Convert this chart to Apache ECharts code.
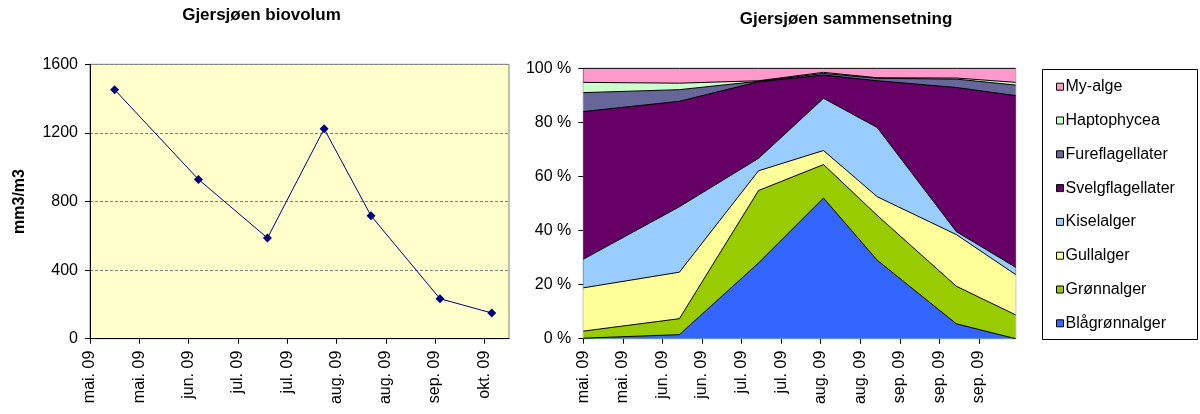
<!DOCTYPE html>
<html>
<head>
<meta charset="utf-8">
<script src="https://cdn.jsdelivr.net/npm/echarts@6/dist/echarts.min.js"></script>
<style>
html,body{margin:0;padding:0;background:#fff;}
#chart{width:1200px;height:414px;}
</style>
</head>
<body>
<div id="chart"></div>
<script>
// Sampling days (days after first sample)
var sampleDays = [0, 34, 62, 85, 104, 132, 153];

// Left chart: biovolume (mm3/m3)
var biovolum = [1452, 929, 587, 1224, 717, 233, 150];
var leftTickDays = [-10, 10, 30, 50, 70, 90, 110, 130, 150];
var leftTickLabels = ['mai. 09', 'mai. 09', 'jun. 09', 'jul. 09', 'jul. 09', 'aug. 09', 'aug. 09', 'sep. 09', 'okt. 09'];
var leftAxisEnd = 160;

// Right chart: composition (%)
var rightTickDays = [0, 14, 28, 42, 56, 70, 84, 98, 112, 126, 140];
var rightTickLabels = ['mai. 09', 'mai. 09', 'jun. 09', 'jun. 09', 'jul. 09', 'jul. 09', 'aug. 09', 'aug. 09', 'sep. 09', 'sep. 09', 'sep. 09'];
var rightAxisEnd = 153;

var groupNames = ['Blågrønnalger', 'Grønnalger', 'Gullalger', 'Kiselalger', 'Svelgflagellater', 'Fureflagellater', 'Haptophycea', 'My-alge'];
var blaagronnalger   = [0.2, 1.5, 28.0, 52.0, 29.0, 5.5, 0.0];
var gronnalger       = [2.6, 5.9, 26.8, 12.4, 16.6, 13.9, 8.8];
var gullalger        = [16.0, 17.2, 7.3, 5.2, 6.9, 19.1, 14.9];
var kiselalger       = [10.6, 24.2, 4.6, 19.3, 25.6, 1.1, 2.7];
var svelgflagellater = [54.6, 39.0, 28.3, 8.6, 17.3, 53.3, 63.5];
var fureflagellater  = [7.0, 4.3, 0.2, 0.6, 0.9, 3.1, 3.9];
var haptophycea      = [3.8, 2.4, 0.2, 0.4, 0.2, 0.4, 1.0];
var myalge           = [5.2, 5.5, 4.6, 1.5, 3.5, 3.6, 5.2];
var groupValues = [blaagronnalger, gronnalger, gullalger, kiselalger, svelgflagellater, fureflagellater, haptophycea, myalge];
var groupColors = ['#3366FF', '#99CC00', '#FFFF99', '#99CCFF', '#660066', '#666699', '#CCFFCC', '#FF99CC'];

var FONT = '"Liberation Sans", Arial, sans-serif';

function pairs(xs, ys) { return xs.map(function (x, i) { return [x, ys[i]]; }); }
function labelFor(ticks, labels) {
  return function (v) {
    for (var i = 0; i < ticks.length; i++) { if (Math.abs(ticks[i] - v) < 0.5) return labels[i]; }
    return '';
  };
}

// Stack the groups (bottom group first): running totals per sample
var stackedTops = [];
groupValues.forEach(function (vals, k) {
  stackedTops.push(vals.map(function (v, i) { return (k ? stackedTops[k - 1][i] : 0) + v; }));
});

// Areas drawn from the top group down so that each lower band paints over the one above
var areaSeries = [];
for (var k = groupNames.length - 1; k >= 0; k--) {
  areaSeries.push({
    name: groupNames[k], type: 'line', xAxisIndex: 1, yAxisIndex: 1,
    data: pairs(sampleDays, stackedTops[k]),
    symbol: 'none', color: groupColors[k], z: 2,
    lineStyle: { width: 0, color: groupColors[k] },
    areaStyle: { color: groupColors[k], opacity: 1, origin: 'start' },
    itemStyle: { color: groupColors[k], borderColor: '#000', borderWidth: 1 },
    emphasis: { disabled: true }
  });
}
// Black boundary lines on top of all areas
var boundarySeries = groupNames.map(function (name, k) {
  return {
    name: name + ' grense', type: 'line', xAxisIndex: 1, yAxisIndex: 1,
    data: pairs(sampleDays, stackedTops[k]),
    symbol: 'none', z: 3, silent: true,
    lineStyle: { color: '#000', width: 1 },
    emphasis: { disabled: true }
  };
});

var chart = echarts.init(document.getElementById('chart'), null, { renderer: 'canvas' });
chart.setOption({
  animation: false,
  textStyle: { fontFamily: FONT },
  title: [
    { text: 'Gjersjøen biovolum', left: 261.5, top: 7, textAlign: 'center', padding: 0,
      textStyle: { fontFamily: FONT, fontSize: 17, fontWeight: 'bold', color: '#000' } },
    { text: 'Gjersjøen sammensetning', left: 846, top: 11, textAlign: 'center', padding: 0,
      textStyle: { fontFamily: FONT, fontSize: 17, fontWeight: 'bold', color: '#000' } }
  ],
  graphic: [
    { type: 'rect', shape: { x: 1042.5, y: 69.5, width: 155, height: 270 },
      style: { fill: '#fff', stroke: '#000', lineWidth: 1 }, z: -1 }
  ],
  legend: {
    data: groupNames.slice().reverse(),
    orient: 'vertical', left: 1056, top: 78.7, padding: 0,
    icon: 'rect', itemWidth: 7, itemHeight: 7, itemGap: 17.8,
    itemStyle: { borderColor: '#000', borderWidth: 1 },
    textStyle: { fontFamily: FONT, fontSize: 16, color: '#000', lineHeight: 16, padding: [0, 0, 0, -3] },
    selectedMode: false
  },
  grid: [
    { left: 90, top: 64.3, width: 419, height: 274.4, show: true,
      backgroundColor: '#FFFFCC', borderColor: '#808080', borderWidth: 1 },
    { left: 583.3, top: 68.3, width: 432.4, height: 270.4, show: true,
      backgroundColor: 'transparent', borderColor: '#808080', borderWidth: 1 }
  ],
  xAxis: [
    { type: 'value', gridIndex: 0, min: leftTickDays[0], max: leftAxisEnd,
      axisLine: { onZero: false, lineStyle: { color: '#000' } },
      axisTick: { customValues: leftTickDays, length: 5, lineStyle: { color: '#000' } },
      axisLabel: { customValues: leftTickDays, formatter: labelFor(leftTickDays, leftTickLabels),
        rotate: 90, margin: 12, fontSize: 16, color: '#000', fontFamily: FONT },
      splitLine: { show: false } },
    { type: 'value', gridIndex: 1, min: rightTickDays[0], max: rightAxisEnd,
      axisLine: { onZero: false, lineStyle: { color: '#000' } },
      axisTick: { customValues: rightTickDays, length: 5, lineStyle: { color: '#000' } },
      axisLabel: { customValues: rightTickDays, formatter: labelFor(rightTickDays, rightTickLabels),
        rotate: 90, margin: 12, fontSize: 16, color: '#000', fontFamily: FONT },
      splitLine: { show: false } }
  ],
  yAxis: [
    { type: 'value', gridIndex: 0, min: 0, max: 1600, interval: 400,
      name: 'mm3/m3', nameLocation: 'middle', nameRotate: 90, nameGap: 62,
      nameTextStyle: { fontFamily: FONT, fontSize: 16, fontWeight: 'bold', color: '#000' },
      axisLine: { show: true, onZero: false, lineStyle: { color: '#000' } },
      axisTick: { show: true, length: 5, lineStyle: { color: '#000' } },
      axisLabel: { margin: 12, fontSize: 16, color: '#000', fontFamily: FONT,
        formatter: function (v) { return String(v); } },
      splitLine: { show: true, lineStyle: { color: '#808080', type: [3, 2], width: 1 } } },
    { type: 'value', gridIndex: 1, min: 0, max: 100, interval: 20,
      axisLine: { show: true, onZero: false, lineStyle: { color: '#000' } },
      axisTick: { show: true, length: 5, lineStyle: { color: '#000' } },
      axisLabel: { margin: 12, fontSize: 16, color: '#000', fontFamily: FONT, formatter: '{value} %' },
      splitLine: { show: false } }
  ],
  series: [
    { name: 'Biovolum', type: 'line', xAxisIndex: 0, yAxisIndex: 0,
      data: pairs(sampleDays, biovolum),
      symbol: 'diamond', symbolSize: 9,
      lineStyle: { color: '#000080', width: 1 },
      itemStyle: { color: '#000080' },
      emphasis: { disabled: true } }
  ].concat(areaSeries, boundarySeries)
});
</script>
</body>
</html>
